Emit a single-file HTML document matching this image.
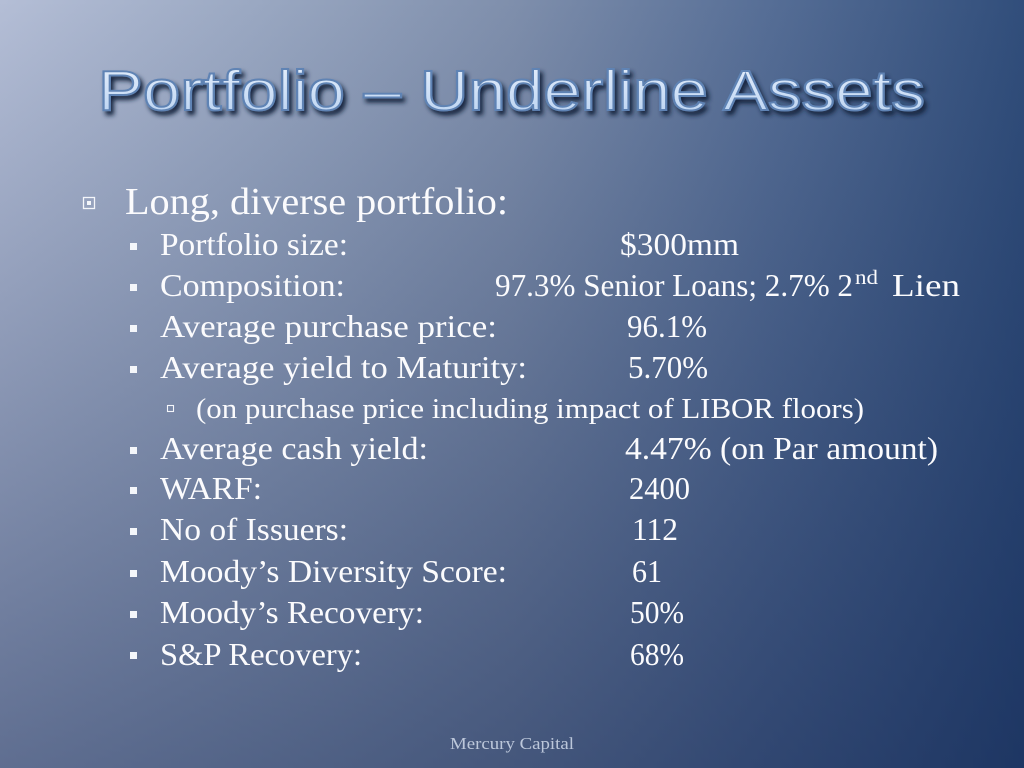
<!DOCTYPE html>
<html>
<head>
<meta charset="utf-8">
<style>
  html,body{margin:0;padding:0;width:1024px;height:768px;overflow:hidden;background:#5a7098;}
  svg{display:block;}
  .t{font-family:"Liberation Serif",serif;fill:#fbfbfd;}
</style>
</head>
<body>
<svg width="1024" height="768" viewBox="0 0 1024 768" xmlns="http://www.w3.org/2000/svg">
  <defs>
    <linearGradient id="hg" x1="0" y1="0" x2="1" y2="0">
      <stop offset="0" stop-color="#b4bed6"/>
      <stop offset="0.25" stop-color="#9aa8c2"/>
      <stop offset="0.5" stop-color="#7f8fac"/>
      <stop offset="0.75" stop-color="#566e96"/>
      <stop offset="1" stop-color="#314e7b"/>
    </linearGradient>
    <linearGradient id="vg" x1="0" y1="0" x2="0" y2="1">
      <stop offset="0" stop-color="#0a1e4b" stop-opacity="0"/>
      <stop offset="1" stop-color="#0a1e4b" stop-opacity="0.5"/>
    </linearGradient>
    <linearGradient id="tg" x1="0" y1="0" x2="0" y2="1">
      <stop offset="0" stop-color="#e6effb"/>
      <stop offset="0.5" stop-color="#d0e1f7"/>
      <stop offset="1" stop-color="#b5cfef"/>
    </linearGradient>
    <filter id="sh" x="-5%" y="-30%" width="110%" height="160%">
      <feGaussianBlur in="SourceAlpha" stdDeviation="2.5"/>
      <feOffset dx="3" dy="4" result="o"/>
      <feComponentTransfer><feFuncA type="linear" slope="0.8"/></feComponentTransfer>
      <feFlood flood-color="#16253f"/>
      <feComposite operator="in" in2="o"/>
      <feMerge><feMergeNode/><feMergeNode in="SourceGraphic"/></feMerge>
    </filter>
  </defs>

  <rect width="1024" height="768" fill="url(#hg)"/>
  <rect width="1024" height="768" fill="url(#vg)"/>

  <!-- Title -->
  <text x="98" y="110" font-family="'Liberation Sans',sans-serif" font-size="57" fill="url(#tg)" stroke="#5f83b4" stroke-width="1.9" textLength="827" lengthAdjust="spacingAndGlyphs" filter="url(#sh)">Portfolio – Underline Assets</text>

  <!-- Level 1 -->
  <rect x="83.5" y="197.5" width="11" height="11" fill="none" stroke="#f4f6fa" stroke-width="1.3"/>
  <rect x="87" y="201" width="4" height="4" fill="#f4f6fa"/>
  <text class="t" x="125" y="214" font-size="38" textLength="383" lengthAdjust="spacingAndGlyphs">Long, diverse portfolio:</text>

  <!-- Level 2 bullets -->
  <g fill="#f4f6fa">
    <rect x="130" y="243" width="7" height="7"/>
    <rect x="130" y="284" width="7" height="7"/>
    <rect x="130" y="325" width="7" height="7"/>
    <rect x="130" y="366" width="7" height="7"/>
    <rect x="130" y="447" width="7" height="7"/>
    <rect x="130" y="487" width="7" height="7"/>
    <rect x="130" y="528" width="7" height="7"/>
    <rect x="130" y="570" width="7" height="7"/>
    <rect x="130" y="611" width="7" height="7"/>
    <rect x="130" y="652" width="7" height="7"/>
  </g>
  <rect x="167.5" y="405.5" width="6" height="6" fill="none" stroke="#f4f6fa" stroke-width="1.1"/>

  <!-- Labels -->
  <g class="t" font-size="32">
    <text class="t" x="160" y="255" textLength="188" lengthAdjust="spacingAndGlyphs">Portfolio size:</text>
    <text class="t" x="160" y="296" textLength="185" lengthAdjust="spacingAndGlyphs">Composition:</text>
    <text class="t" x="160" y="337" textLength="337" lengthAdjust="spacingAndGlyphs">Average purchase price:</text>
    <text class="t" x="160" y="378" textLength="367" lengthAdjust="spacingAndGlyphs">Average yield to Maturity:</text>
    <text class="t" x="160" y="459" textLength="268" lengthAdjust="spacingAndGlyphs">Average cash yield:</text>
    <text class="t" x="160" y="499" textLength="102" lengthAdjust="spacingAndGlyphs">WARF:</text>
    <text class="t" x="160" y="540" textLength="188" lengthAdjust="spacingAndGlyphs">No of Issuers:</text>
    <text class="t" x="160" y="582" textLength="347" lengthAdjust="spacingAndGlyphs">Moody’s Diversity Score:</text>
    <text class="t" x="160" y="623" textLength="264" lengthAdjust="spacingAndGlyphs">Moody’s Recovery:</text>
    <text class="t" x="160" y="665" textLength="202" lengthAdjust="spacingAndGlyphs">S&amp;P Recovery:</text>
  </g>

  <!-- Sub-sub line -->
  <text class="t" x="196" y="418" font-size="28" textLength="668" lengthAdjust="spacingAndGlyphs">(on purchase price including impact of LIBOR floors)</text>

  <!-- Values -->
  <g font-size="32">
    <text class="t" x="620" y="255" textLength="119" lengthAdjust="spacingAndGlyphs">$300mm</text>
    <text class="t" x="495" y="296" textLength="358" lengthAdjust="spacingAndGlyphs">97.3% Senior Loans; 2.7% 2</text>
    <text class="t" x="855" y="284" font-size="20" textLength="23" lengthAdjust="spacingAndGlyphs">nd</text>
    <text class="t" x="892" y="296" textLength="68" lengthAdjust="spacingAndGlyphs">Lien</text>
    <text class="t" x="627" y="337" textLength="80" lengthAdjust="spacingAndGlyphs">96.1%</text>
    <text class="t" x="628" y="378" textLength="80" lengthAdjust="spacingAndGlyphs">5.70%</text>
    <text class="t" x="625" y="459" textLength="313" lengthAdjust="spacingAndGlyphs">4.47% (on Par amount)</text>
    <text class="t" x="629" y="499" textLength="61" lengthAdjust="spacingAndGlyphs">2400</text>
    <text class="t" x="632" y="540" textLength="46" lengthAdjust="spacingAndGlyphs">112</text>
    <text class="t" x="632" y="582" textLength="30" lengthAdjust="spacingAndGlyphs">61</text>
    <text class="t" x="630" y="623" textLength="54" lengthAdjust="spacingAndGlyphs">50%</text>
    <text class="t" x="630" y="665" textLength="54" lengthAdjust="spacingAndGlyphs">68%</text>
  </g>

  <!-- Footer -->
  <text x="450" y="749" font-family="'Liberation Serif',serif" font-size="17" fill="#bcc7da" textLength="124" lengthAdjust="spacingAndGlyphs">Mercury Capital</text>
</svg>
</body>
</html>
